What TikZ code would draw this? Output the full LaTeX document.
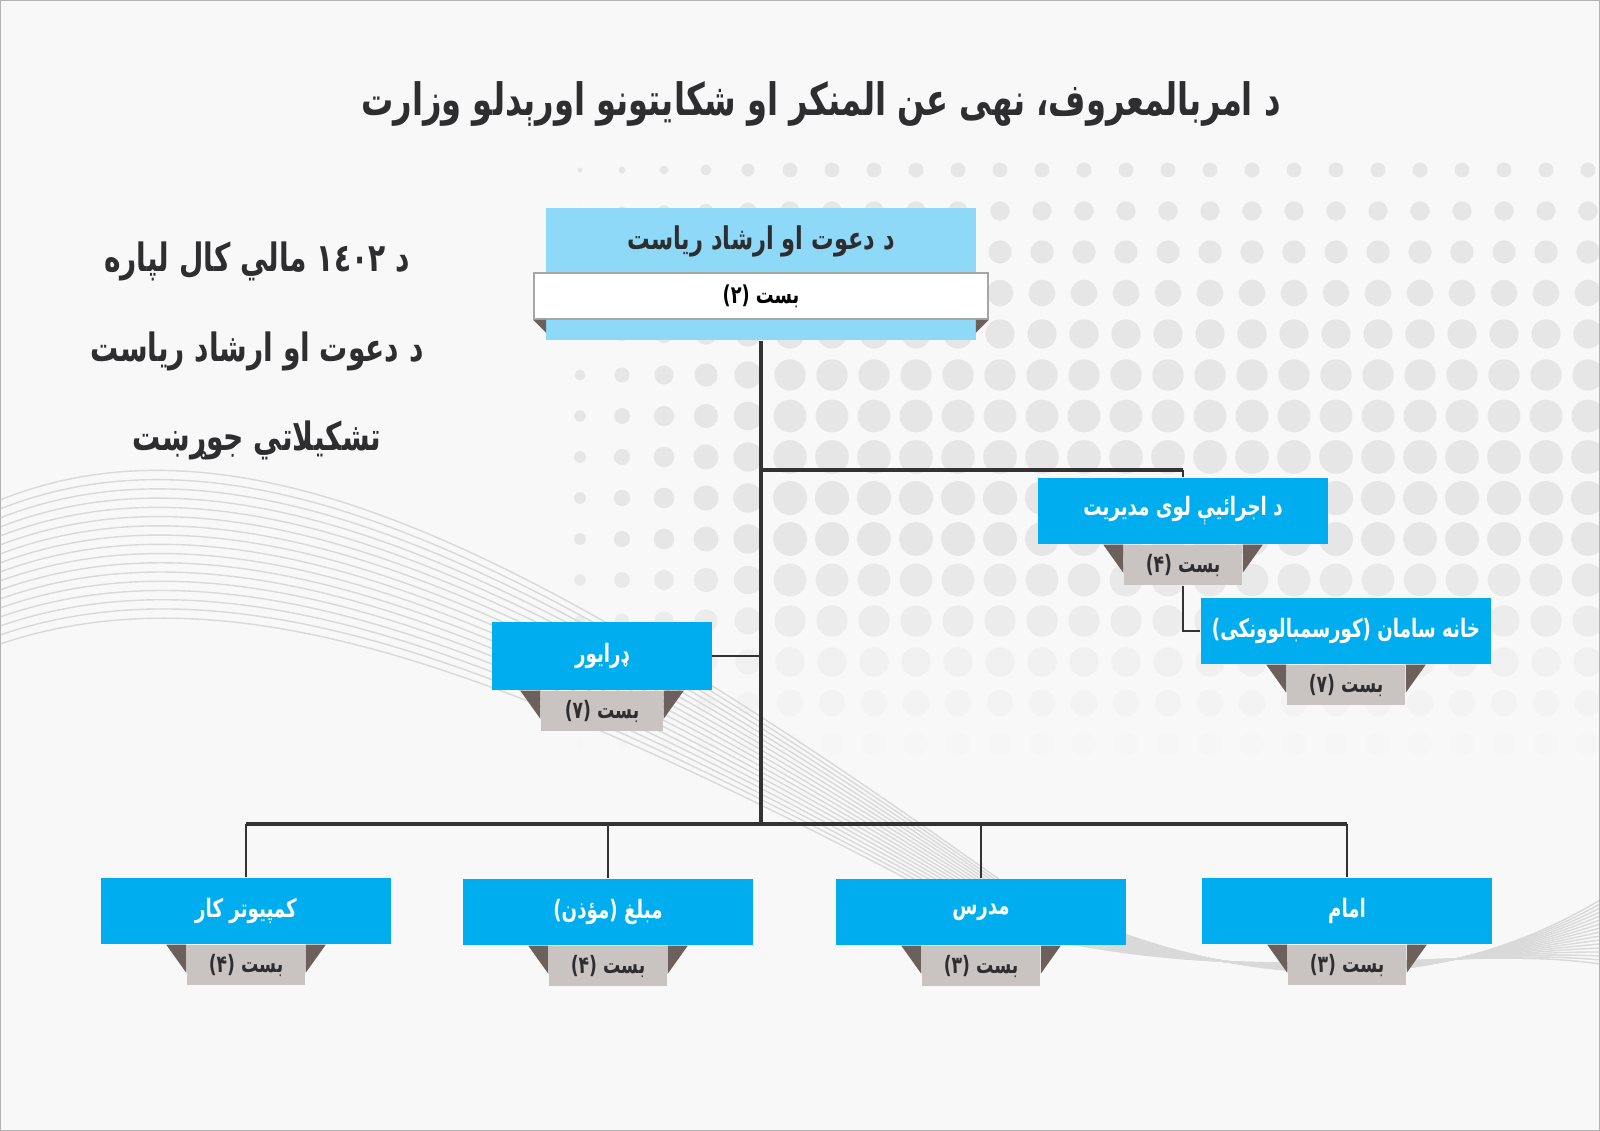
\documentclass[tikz,border=0pt]{standalone}
\usepackage{fontspec}
\newfontfamily\arabicfont[Script=Arabic, FakeStretch=0.72]{DejaVu Sans}
\TeXXeTstate=1
\usetikzlibrary{positioning}

\definecolor{boxblue}{HTML}{00AEEF}
\definecolor{headblue}{HTML}{8ED8F8}
\definecolor{tabgray}{HTML}{C9C3C1}
\definecolor{flapdark}{HTML}{6B605C}
\definecolor{titlegray}{HTML}{2E2E30}
\definecolor{dotgray}{HTML}{E6E6E6}
\definecolor{bggray}{HTML}{F8F8F8}

% rtl text helper
\newcommand{\rtltext}[1]{\beginR #1\endR}
% dark folds beside a post tab
\newcommand{\tabflaps}[1]{%
  \fill[flapdark] (#1.north west) -- ++(-20,0) -- ++(20,28) -- cycle;
  \fill[flapdark] (#1.north east) -- ++(20,0) -- ++(-20,28) -- cycle;}

\begin{document}
\begin{tikzpicture}[
    x=0.01cm, y=-0.01cm,
    office/.style={rectangle, fill=boxblue, text=white, minimum width=2.9cm, minimum height=0.66cm, inner sep=0pt, font=\arabicfont\bfseries\fontsize{7.2}{9}\selectfont},
    posts/.style={rectangle, fill=tabgray, text=titlegray, minimum width=1.18cm, minimum height=0.4cm, inner sep=0pt, anchor=north, font=\arabicfont\bfseries\fontsize{6.8}{8}\selectfont},
    heading/.style={text=titlegray, font=\arabicfont\bfseries\fontsize{11.1}{13}\selectfont},
    link/.style={draw=black!80, line width=0.7pt},
    bus/.style={draw=black!80, line width=1.4pt}
]
    \useasboundingbox (0,0) rectangle (1600,1131);
    % Background
    \fill[bggray] (0,0) rectangle (1600,1131);
    \foreach \i in {0,...,24} {
      \foreach \j in {0,...,15} {
        \pgfmathsetmacro\dotr{(17-0.15*(\j-8)^2)*min(1,0.35+0.13*\i)}
        \pgfmathtruncatemacro\dotshade{min(100,max(0,100-(\j-9)*18))}
        \fill[dotgray!\dotshade!bggray] (580+\i*42, 170+\j*41) circle ({\dotr*0.01cm});
      }
    }
    \foreach \k in {0,...,16} {
      \draw[gray!30, line width=0.4pt] (0, 500+\k*9) .. controls (250, 400+\k*10) and (550, 560+\k*8) .. (1000, 880+\k*3) .. controls (1250, 1010-\k*1) and (1450, 990-\k*3) .. (1600, 900+\k*4);
    }
    \draw[gray!60] (0,0) rectangle (1600,1131);

    % Titles
    \node [heading, font=\arabicfont\bfseries\fontsize{12.7}{15}\selectfont] (title) at (821,104) {\rtltext{د امربالمعروف، نهی عن المنکر او شکایتونو اورېدلو وزارت}};
    \node [heading] (yearline) at (257,261) {\rtltext{د \beginL ١٤٠٢\endL{} مالي کال لپاره}};
    \node [heading] (deptline) at (257,351) {\rtltext{د دعوت او ارشاد ریاست}};
    \node [heading] (chartline) at (257,440) {\rtltext{تشکیلاتي جوړښت}};

    % Head office
    \node [rectangle, fill=headblue, minimum width=4.29cm, minimum height=1.32cm] (head) at (761,274) {};
    \node [text=titlegray, font=\arabicfont\bfseries\fontsize{8.9}{11}\selectfont] (headname) at (761,241) {\rtltext{د دعوت او ارشاد ریاست}};
    \node [rectangle, fill=white, draw=gray!70, minimum width=4.54cm, minimum height=0.46cm, font=\arabicfont\bfseries\fontsize{7}{9}\selectfont] (headposts) at (761,296) {\rtltext{بست (۲)}};
    \fill[flapdark] (headposts.south west) -- ++(13,0) -- ++(0,13) -- cycle;
    \fill[flapdark] (headposts.south east) -- ++(-13,0) -- ++(0,13) -- cycle;

    % Offices
    \node [office] (exec) at (1183,511) {\rtltext{د اجرائیې لوی مدیریت}};
    \node [posts] (execposts) at (exec.south) {\rtltext{بست (۴)}};
    \tabflaps{execposts}
    \node [office] (supply) at (1346,631) {\rtltext{خانه سامان (کورسمبالوونکی)}};
    \node [posts] (supplyposts) at (supply.south) {\rtltext{بست (۷)}};
    \tabflaps{supplyposts}
    \node [office, minimum width=2.19cm, minimum height=0.68cm] (driver) at (602,656) {\rtltext{ډرایور}};
    \node [posts, minimum width=1.22cm] (driverposts) at (driver.south) {\rtltext{بست (۷)}};
    \tabflaps{driverposts}

    \node [office] (computer) at (246,911) {\rtltext{کمپیوتر کار}};
    \node [posts] (computerposts) at (computer.south) {\rtltext{بست (۴)}};
    \tabflaps{computerposts}
    \node [office] (preacher) at (608,912) {\rtltext{مبلغ (مؤذن)}};
    \node [posts] (preacherposts) at (preacher.south) {\rtltext{بست (۴)}};
    \tabflaps{preacherposts}
    \node [office] (teacher) at (981,912) {\rtltext{مدرس}};
    \node [posts] (teacherposts) at (teacher.south) {\rtltext{بست (۳)}};
    \tabflaps{teacherposts}
    \node [office] (imam) at (1347,911) {\rtltext{امام}};
    \node [posts] (imamposts) at (imam.south) {\rtltext{بست (۳)}};
    \tabflaps{imamposts}

    % Connections
    \coordinate (split) at (761,824);
    \coordinate (execjoin) at (761,470);
    \coordinate (computerjoin) at (computer.north |- split);
    \coordinate (imamjoin) at (imam.north |- split);
    \coordinate (execcorner) at (exec.north |- execjoin);
    \draw [link, line width=1pt] (head.south) -- (split);
    \draw [bus] (execjoin) -- (execcorner);
    \draw [link] (execcorner) -- (exec.north);
    \draw [link] (execposts.south) |- (supply.west);
    \draw [link] (driver.east) -- (driver.east -| split);
    \draw [bus] (computerjoin) -- (imamjoin);
    \draw [link] (computerjoin) -- (computer.north);
    \draw [link] (imamjoin) -- (imam.north);
    \draw [link] (preacher.north) -- (preacher.north |- split);
    \draw [link] (teacher.north) -- (teacher.north |- split);
\end{tikzpicture}
\end{document}
